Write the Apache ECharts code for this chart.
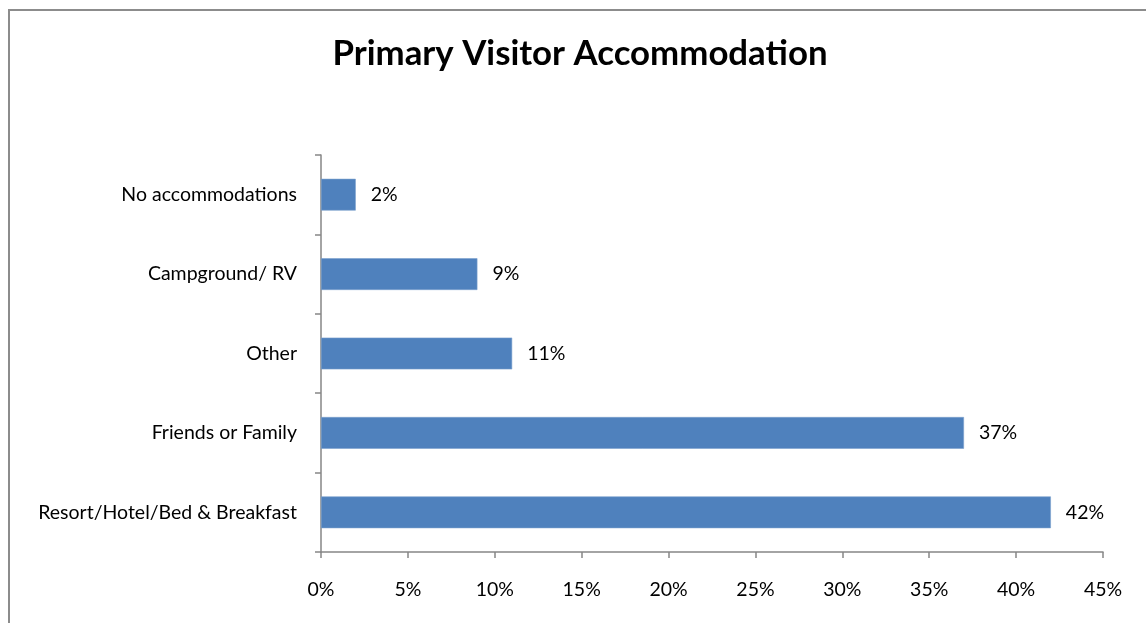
<!DOCTYPE html>
<html>
<head>
<meta charset="utf-8">
<script src="https://cdn.jsdelivr.net/npm/echarts@6/dist/echarts.min.js"></script>
<style>
html,body{margin:0;padding:0;background:#fff;}
#frame{position:absolute;left:8px;top:9px;width:1138px;height:614px;border-left:2px solid #8c8c8c;border-top:2px solid #8c8c8c;box-sizing:border-box;}
#chart{position:absolute;left:0;top:0;width:1146px;height:623px;}
</style>
</head>
<body>
<div id="frame"></div>
<div id="chart"></div>
<script>
const titleText = 'Primary Visitor Accommodation';
const categories = ['Resort/Hotel/Bed & Breakfast', 'Friends or Family', 'Other', 'Campground/ RV', 'No accommodations'];
const values = [42, 37, 11, 9, 2];
const xTicks = [0, 5, 10, 15, 20, 25, 30, 35, 40, 45];

const font = 'Lato';
const fs = 19.5;
const chart = echarts.init(document.getElementById('chart'), null, {renderer: 'canvas'});
chart.setOption({
  animation: false,
  backgroundColor: 'transparent',
  title: {
    text: titleText,
    left: 575, top: 31, textAlign: 'center',
    textStyle: {fontFamily: font, fontWeight: 'bold', fontSize: 34.8, color: '#000'}
  },
  grid: {left: 321, right: 43, top: 155, bottom: 71, containLabel: false},
  xAxis: {
    type: 'value', min: xTicks[0], max: xTicks[xTicks.length - 1], interval: 5,
    axisLine: {show: true, lineStyle: {color: '#868686', width: 1.5}},
    axisTick: {show: true, length: 6, lineStyle: {color: '#868686', width: 1.5}},
    splitLine: {show: false},
    axisLabel: {margin: 28, fontFamily: font, fontSize: fs, color: '#000', formatter: v => v + '%'}
  },
  yAxis: {
    type: 'category', data: categories,
    axisLine: {show: true, lineStyle: {color: '#868686', width: 1.5}},
    axisTick: {show: true, length: 6, lineStyle: {color: '#868686', width: 1.5}},
    axisLabel: {margin: 24, fontFamily: font, fontSize: fs, color: '#000'}
  },
  series: [{
    type: 'bar', data: values, barCategoryGap: '60%',
    itemStyle: {color: '#4F81BD', borderColor: '#7BA0CD', borderWidth: 0.6},
    label: {show: true, position: 'right', distance: 15, formatter: p => p.value + '%',
      fontFamily: font, fontSize: fs, color: '#000'}
  }]
});
</script>
</body>
</html>
